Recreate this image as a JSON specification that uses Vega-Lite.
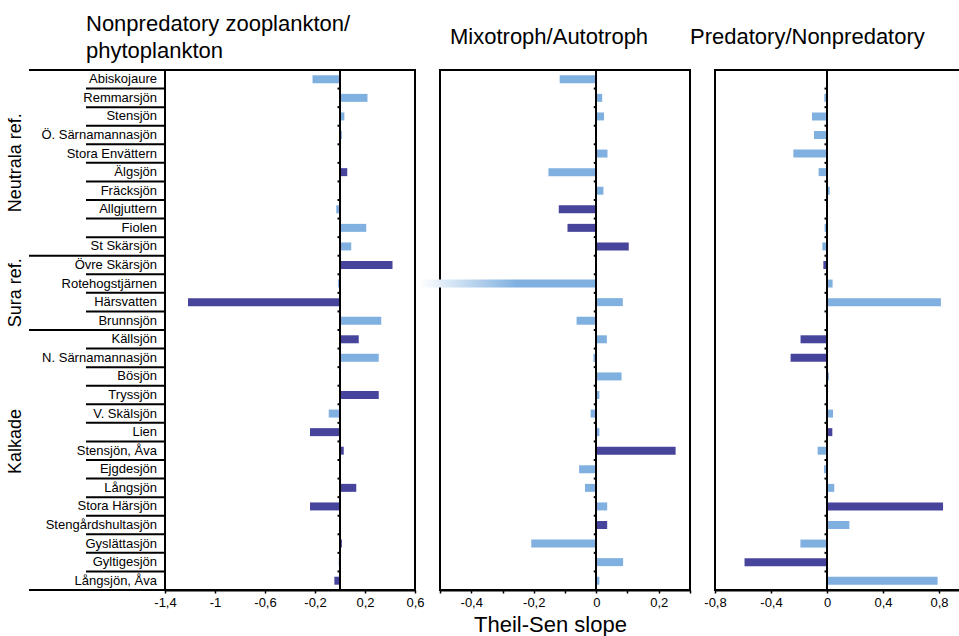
{
  "$schema": "https://vega.github.io/schema/vega-lite/v6.json",
  "autosize": {"type": "pad"},
  "padding": {"left": 6, "top": 12, "right": 0, "bottom": 0},
  "background": "white",
  "datasets": {
    "lakes": [
      {"lake": "Abiskojaure", "group": "Neutrala ref.", "zoo": -0.22, "zooSig": "nej", "mix": -0.117, "mixSig": "nej", "pred": 0, "predSig": "nej"},
      {"lake": "Remmarsjön", "group": "Neutrala ref.", "zoo": 0.22, "zooSig": "nej", "mix": 0.019, "mixSig": "nej", "pred": -0.019, "predSig": "nej"},
      {"lake": "Stensjön", "group": "Neutrala ref.", "zoo": 0.035, "zooSig": "nej", "mix": 0.025, "mixSig": "nej", "pred": -0.107, "predSig": "nej"},
      {"lake": "Ö. Särnamannasjön", "group": "Neutrala ref.", "zoo": 0.015, "zooSig": "nej", "mix": 0, "mixSig": "nej", "pred": -0.093, "predSig": "nej"},
      {"lake": "Stora Envättern", "group": "Neutrala ref.", "zoo": 0.008, "zooSig": "nej", "mix": 0.036, "mixSig": "nej", "pred": -0.24, "predSig": "nej"},
      {"lake": "Älgsjön", "group": "Neutrala ref.", "zoo": 0.058, "zooSig": "ja", "mix": -0.153, "mixSig": "nej", "pred": -0.06, "predSig": "nej"},
      {"lake": "Fräcksjön", "group": "Neutrala ref.", "zoo": 0, "zooSig": "nej", "mix": 0.023, "mixSig": "nej", "pred": 0.019, "predSig": "nej"},
      {"lake": "Allgjuttern", "group": "Neutrala ref.", "zoo": -0.03, "zooSig": "nej", "mix": -0.12, "mixSig": "ja", "pred": 0, "predSig": "nej"},
      {"lake": "Fiolen", "group": "Neutrala ref.", "zoo": 0.21, "zooSig": "nej", "mix": -0.092, "mixSig": "ja", "pred": -0.017, "predSig": "nej"},
      {"lake": "St Skärsjön", "group": "Neutrala ref.", "zoo": 0.09, "zooSig": "nej", "mix": 0.104, "mixSig": "ja", "pred": -0.033, "predSig": "nej"},
      {"lake": "Övre Skärsjön", "group": "Sura ref.", "zoo": 0.42, "zooSig": "ja", "mix": 0, "mixSig": "nej", "pred": -0.026, "predSig": "ja"},
      {"lake": "Rotehogstjärnen", "group": "Sura ref.", "zoo": -0.015, "zooSig": "nej", "mix": -0.565, "mixSig": "nej", "pred": 0.04, "predSig": "nej"},
      {"lake": "Härsvatten", "group": "Sura ref.", "zoo": -1.216, "zooSig": "ja", "mix": 0.085, "mixSig": "nej", "pred": 0.814, "predSig": "nej"},
      {"lake": "Brunnsjön", "group": "Sura ref.", "zoo": 0.33, "zooSig": "nej", "mix": -0.063, "mixSig": "nej", "pred": 0, "predSig": "nej"},
      {"lake": "Källsjön", "group": "Kalkade", "zoo": 0.15, "zooSig": "ja", "mix": 0.034, "mixSig": "nej", "pred": -0.189, "predSig": "ja"},
      {"lake": "N. Särnamannasjön", "group": "Kalkade", "zoo": 0.31, "zooSig": "nej", "mix": -0.009, "mixSig": "nej", "pred": -0.26, "predSig": "ja"},
      {"lake": "Bösjön", "group": "Kalkade", "zoo": 0.003, "zooSig": "nej", "mix": 0.081, "mixSig": "nej", "pred": 0.014, "predSig": "nej"},
      {"lake": "Tryssjön", "group": "Kalkade", "zoo": 0.31, "zooSig": "ja", "mix": 0.01, "mixSig": "nej", "pred": 0, "predSig": "nej"},
      {"lake": "V. Skälsjön", "group": "Kalkade", "zoo": -0.09, "zooSig": "nej", "mix": -0.018, "mixSig": "nej", "pred": 0.043, "predSig": "nej"},
      {"lake": "Lien", "group": "Kalkade", "zoo": -0.24, "zooSig": "ja", "mix": 0.01, "mixSig": "nej", "pred": 0.038, "predSig": "ja"},
      {"lake": "Stensjön, Åva", "group": "Kalkade", "zoo": 0.03, "zooSig": "ja", "mix": 0.254, "mixSig": "ja", "pred": -0.067, "predSig": "nej"},
      {"lake": "Ejgdesjön", "group": "Kalkade", "zoo": 0, "zooSig": "nej", "mix": -0.055, "mixSig": "nej", "pred": -0.021, "predSig": "nej"},
      {"lake": "Långsjön", "group": "Kalkade", "zoo": 0.13, "zooSig": "ja", "mix": -0.036, "mixSig": "nej", "pred": 0.052, "predSig": "nej"},
      {"lake": "Stora Härsjön", "group": "Kalkade", "zoo": -0.24, "zooSig": "ja", "mix": 0.035, "mixSig": "nej", "pred": 0.829, "predSig": "ja"},
      {"lake": "Stengårdshultasjön", "group": "Kalkade", "zoo": 0.005, "zooSig": "nej", "mix": 0.035, "mixSig": "ja", "pred": 0.16, "predSig": "nej"},
      {"lake": "Gyslättasjön", "group": "Kalkade", "zoo": 0.015, "zooSig": "ja", "mix": -0.208, "mixSig": "nej", "pred": -0.19, "predSig": "nej"},
      {"lake": "Gyltigesjön", "group": "Kalkade", "zoo": -0.01, "zooSig": "nej", "mix": 0.086, "mixSig": "nej", "pred": -0.589, "predSig": "ja"},
      {"lake": "Långsjön, Åva", "group": "Kalkade", "zoo": -0.045, "zooSig": "ja", "mix": 0.01, "mixSig": "nej", "pred": 0.79, "predSig": "nej"}
    ],
    "groups": [
      {"group": "Neutrala ref.", "first": "Abiskojaure", "mid": "Älgsjön"},
      {"group": "Sura ref.", "first": "Övre Skärsjön", "mid": "Härsvatten"},
      {"group": "Kalkade", "first": "Källsjön", "mid": "Stensjön, Åva"}
    ],
    "blank": [{"id": 1}]
  },
  "bounds": "flush",
  "spacing": 0,
  "hconcat": [
    {
      "width": 57, "height": 520,
      "view": {"stroke": null},
      "data": {"name": "groups"},
      "layer": [
        {
          "mark": {"type": "rule", "color": "black", "strokeWidth": 2},
          "encoding": {"y": {"field": "first", "type": "nominal", "bandPosition": 0, "axis": null,
            "scale": {"padding": 0, "domain": ["Abiskojaure","Remmarsjön","Stensjön","Ö. Särnamannasjön","Stora Envättern","Älgsjön","Fräcksjön","Allgjuttern","Fiolen","St Skärsjön","Övre Skärsjön","Rotehogstjärnen","Härsvatten","Brunnsjön","Källsjön","N. Särnamannasjön","Bösjön","Tryssjön","V. Skälsjön","Lien","Stensjön, Åva","Ejgdesjön","Långsjön","Stora Härsjön","Stengårdshultasjön","Gyslättasjön","Gyltigesjön","Långsjön, Åva"]}}}
        },
        {
          "mark": {"type": "rule", "color": "black", "strokeWidth": 2},
          "encoding": {"y": {"datum": "Långsjön, Åva", "type": "nominal", "bandPosition": 1}}
        },
        {
          "mark": {"type": "text", "angle": 270, "align": "center", "baseline": "middle", "fontSize": 18, "font": "Liberation Sans", "color": "black", "dy": -13},
          "encoding": {
            "y": {"field": "mid", "type": "nominal", "bandPosition": 0},
            "x": {"value": 0},
            "text": {"field": "group"}
          }
        }
      ]
    },
    {
      "width": 79, "height": 520,
      "view": {"stroke": null},
      "data": {"name": "lakes"},
      "layer": [
        {
          "mark": {"type": "rule", "color": "black", "strokeWidth": 2},
          "encoding": {"y": {"field": "lake", "type": "nominal", "bandPosition": 0, "axis": null,
            "scale": {"padding": 0, "domain": ["Abiskojaure","Remmarsjön","Stensjön","Ö. Särnamannasjön","Stora Envättern","Älgsjön","Fräcksjön","Allgjuttern","Fiolen","St Skärsjön","Övre Skärsjön","Rotehogstjärnen","Härsvatten","Brunnsjön","Källsjön","N. Särnamannasjön","Bösjön","Tryssjön","V. Skälsjön","Lien","Stensjön, Åva","Ejgdesjön","Långsjön","Stora Härsjön","Stengårdshultasjön","Gyslättasjön","Gyltigesjön","Långsjön, Åva"]}}}
        },
        {
          "mark": {"type": "rule", "color": "black", "strokeWidth": 2},
          "encoding": {"y": {"datum": "Långsjön, Åva", "type": "nominal", "bandPosition": 1}}
        },
        {
          "mark": {"type": "text", "align": "right", "baseline": "middle", "fontSize": 13, "font": "Liberation Sans", "color": "black", "dx": -8},
          "encoding": {
            "y": {"field": "lake", "type": "nominal"},
            "x": {"value": "width"},
            "text": {"field": "lake"}
          }
        }
      ]
    },
    {
      "width": 250, "height": 520,
      "view": {"stroke": "black", "strokeWidth": 2},
      "title": {"text": ["Nonpredatory zooplankton/", "phytoplankton"], "anchor": "start", "frame": "group", "dx": -79, "dy": 16, "offset": 0, "baseline": "bottom", "fontSize": 22, "fontWeight": "normal", "lineHeight": 27, "font": "Liberation Sans", "color": "black"},
      "data": {"name": "lakes"},
      "layer": [
        {
          "mark": {"type": "bar", "height": {"band": 0.43}},
          "encoding": {
            "y": {"field": "lake", "type": "nominal", "axis": null,
              "scale": {"padding": 0, "domain": ["Abiskojaure","Remmarsjön","Stensjön","Ö. Särnamannasjön","Stora Envättern","Älgsjön","Fräcksjön","Allgjuttern","Fiolen","St Skärsjön","Övre Skärsjön","Rotehogstjärnen","Härsvatten","Brunnsjön","Källsjön","N. Särnamannasjön","Bösjön","Tryssjön","V. Skälsjön","Lien","Stensjön, Åva","Ejgdesjön","Långsjön","Stora Härsjön","Stengårdshultasjön","Gyslättasjön","Gyltigesjön","Långsjön, Åva"]}},
            "x": {"field": "zoo", "type": "quantitative", "scale": {"domain": [-1.4, 0.6], "nice": false, "zero": false},
              "axis": {"title": null, "values": [-1.4,-1.2,-1,-0.8,-0.6,-0.4,-0.2,0,0.2,0.4,0.6],
                "labelExpr": "indexof([-14,-10,-6,-2,0,2,6], round(datum.value*10)) >= 0 ? (datum.value < 0 ? '-' : '') + replace(format(abs(datum.value), '.1~f'), '.', ',') : ''"}},
            "color": {"field": "zooSig", "type": "nominal", "scale": {"domain": ["nej", "ja"], "range": ["#80b0e0", "#47449b"]}, "legend": null}
          }
        },
        {
          "mark": {"type": "rule", "color": "black", "strokeWidth": 1.5},
          "encoding": {"x": {"datum": 0}}
        },
        {
          "mark": {"type": "point", "shape": "square", "filled": true, "size": 4, "color": "black", "opacity": 1, "xOffset": -1.5},
          "encoding": {"x": {"datum": 0}, "y": {"field": "lake", "type": "nominal", "bandPosition": 0}}
        }
      ]
    },
    {
      "width": 25, "height": 520,
      "view": {"stroke": null},
      "data": {"name": "blank"},
      "mark": {"type": "point", "opacity": 0},
      "encoding": {}
    },
    {
      "width": 250, "height": 520,
      "view": {"stroke": "black", "strokeWidth": 2},
      "title": {"text": "Mixotroph/Autotroph", "anchor": "start", "frame": "group", "dx": 10, "dy": 2, "offset": 0, "baseline": "bottom", "fontSize": 22, "fontWeight": "normal", "font": "Liberation Sans", "color": "black"},
      "data": {"name": "lakes"},
      "encoding": {
        "y": {"field": "lake", "type": "nominal", "axis": null,
          "scale": {"padding": 0, "domain": ["Abiskojaure","Remmarsjön","Stensjön","Ö. Särnamannasjön","Stora Envättern","Älgsjön","Fräcksjön","Allgjuttern","Fiolen","St Skärsjön","Övre Skärsjön","Rotehogstjärnen","Härsvatten","Brunnsjön","Källsjön","N. Särnamannasjön","Bösjön","Tryssjön","V. Skälsjön","Lien","Stensjön, Åva","Ejgdesjön","Långsjön","Stora Härsjön","Stengårdshultasjön","Gyslättasjön","Gyltigesjön","Långsjön, Åva"]}},
        "x": {"field": "mix", "type": "quantitative", "scale": {"domain": [-0.5, 0.3], "nice": false, "zero": false},
          "axis": {"title": "Theil-Sen slope", "titleFontSize": 22, "titleFontWeight": "normal", "titleFont": "Liberation Sans", "titleColor": "black", "titleX": 110, "titleY": 41, "titleBaseline": "alphabetic", "titleAlign": "center",
            "values": [-0.5,-0.4,-0.3,-0.2,-0.1,0,0.1,0.2,0.3],
            "labelExpr": "abs(round(datum.value*10)) % 2 == 0 ? (datum.value < 0 ? '-' : '') + replace(format(abs(datum.value), '.1~f'), '.', ',') : ''"}}
      },
      "layer": [
        {
          "transform": [{"filter": "datum.lake !== 'Rotehogstjärnen'"}],
          "mark": {"type": "bar", "height": {"band": 0.43}},
          "encoding": {
            "color": {"field": "mixSig", "type": "nominal", "scale": {"domain": ["nej", "ja"], "range": ["#80b0e0", "#47449b"]}, "legend": null}
          }
        },
        {
          "transform": [{"filter": "datum.lake === 'Rotehogstjärnen'"}],
          "mark": {"type": "bar", "height": {"band": 0.43},
            "color": {"gradient": "linear", "x1": 0, "x2": 1, "y1": 0, "y2": 0,
              "stops": [{"offset": 0, "color": "#ffffff"}, {"offset": 0.55, "color": "#80b0e0"}]}}
        },
        {
          "mark": {"type": "rule", "color": "black", "strokeWidth": 1.5},
          "encoding": {"x": {"datum": 0}, "y": null}
        },
        {
          "mark": {"type": "point", "shape": "square", "filled": true, "size": 4, "color": "black", "opacity": 1, "xOffset": -1.5},
          "encoding": {"x": {"datum": 0}, "y": {"field": "lake", "type": "nominal", "bandPosition": 0}}
        }
      ]
    },
    {
      "width": 25, "height": 520,
      "view": {"stroke": null},
      "data": {"name": "blank"},
      "mark": {"type": "point", "opacity": 0},
      "encoding": {}
    },
    {
      "width": 252, "height": 520,
      "view": {"stroke": "black", "strokeWidth": 2},
      "title": {"text": "Predatory/Nonpredatory", "anchor": "start", "frame": "group", "dx": -25, "dy": 2, "offset": 0, "baseline": "bottom", "fontSize": 22, "fontWeight": "normal", "font": "Liberation Sans", "color": "black"},
      "data": {"name": "lakes"},
      "layer": [
        {
          "mark": {"type": "bar", "height": {"band": 0.43}},
          "encoding": {
            "y": {"field": "lake", "type": "nominal", "axis": null,
              "scale": {"padding": 0, "domain": ["Abiskojaure","Remmarsjön","Stensjön","Ö. Särnamannasjön","Stora Envättern","Älgsjön","Fräcksjön","Allgjuttern","Fiolen","St Skärsjön","Övre Skärsjön","Rotehogstjärnen","Härsvatten","Brunnsjön","Källsjön","N. Särnamannasjön","Bösjön","Tryssjön","V. Skälsjön","Lien","Stensjön, Åva","Ejgdesjön","Långsjön","Stora Härsjön","Stengårdshultasjön","Gyslättasjön","Gyltigesjön","Långsjön, Åva"]}},
            "x": {"field": "pred", "type": "quantitative", "scale": {"domain": [-0.8, 1.0], "nice": false, "zero": false},
              "axis": {"title": null, "values": [-0.8,-0.6,-0.4,-0.2,0,0.2,0.4,0.6,0.8,1.0],
                "labelExpr": "round(datum.value*10) % 4 == 0 ? (datum.value < 0 ? '-' : '') + replace(format(abs(datum.value), '.1~f'), '.', ',') : ''"}},
            "color": {"field": "predSig", "type": "nominal", "scale": {"domain": ["nej", "ja"], "range": ["#80b0e0", "#47449b"]}, "legend": null}
          }
        },
        {
          "mark": {"type": "rule", "color": "black", "strokeWidth": 1.5},
          "encoding": {"x": {"datum": 0}}
        },
        {
          "mark": {"type": "point", "shape": "square", "filled": true, "size": 4, "color": "black", "opacity": 1, "xOffset": -1.5},
          "encoding": {"x": {"datum": 0}, "y": {"field": "lake", "type": "nominal", "bandPosition": 0}}
        }
      ]
    }
  ],
  "resolve": {"scale": {"color": "independent"}},
  "config": {
    "font": "Liberation Sans",
    "axisX": {"domainColor": "black", "domainWidth": 2, "tickColor": "black", "tickSize": 3, "tickWidth": 1.5, "labelFontSize": 13, "labelColor": "black", "labelFont": "Liberation Sans", "labelPadding": 3, "labelFlush": false, "labelOverlap": false, "labelBound": false, "grid": false}
  }
}
